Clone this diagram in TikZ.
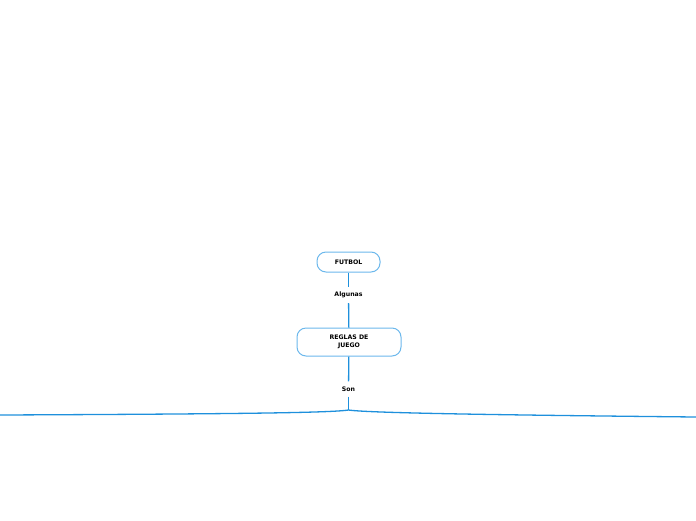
\documentclass[tikz,border=0pt]{standalone}
\usepackage{fontspec}
\setmainfont{DejaVu Sans}
\usetikzlibrary{positioning}
\definecolor{linkblue}{HTML}{1E90DC}
\definecolor{boxblue}{HTML}{6CB8EC}

\begin{document}
\begin{tikzpicture}[
    x=1pt,
    y=-1pt,
    topic/.style={draw=boxblue, line width=1pt, rounded corners=9pt, fill=white,
        align=center, font=\bfseries\fontsize{6.2}{8}\selectfont},
    rel/.style={inner sep=5pt, font=\bfseries\fontsize{6.2}{8}\selectfont},
    link/.style={draw=linkblue, line width=1.3pt}
]
\useasboundingbox (0,0) rectangle (696,520);

% Topics and relation labels
\node[topic, minimum width=63pt, minimum height=20pt] (futbol) at (348.5,262) {FUTBOL};
\node[rel] (algunas) at (348.5,295) {Algunas};
\node[topic, minimum width=104pt, minimum height=28pt] (reglas) at (349,342) {REGLAS DE\\JUEGO};
\node[rel] (son) at (348.5,389) {Son};

% Fork and free ends
\coordinate (fork) at (348.5,410);
\coordinate (izq) at (0,415);
\coordinate (der) at (696,417);

% Connectors
\draw[link] (futbol) -- (algunas);
\draw[link] (algunas) -- (reglas);
\draw[link] (reglas) -- (son);
\draw[link] (son) -- (fork);
\draw[link] (fork) .. controls (330,413) and (220,414) .. (izq);
\draw[link] (fork) .. controls (368,413) and (500,415) .. (der);

\end{tikzpicture}
\end{document}
